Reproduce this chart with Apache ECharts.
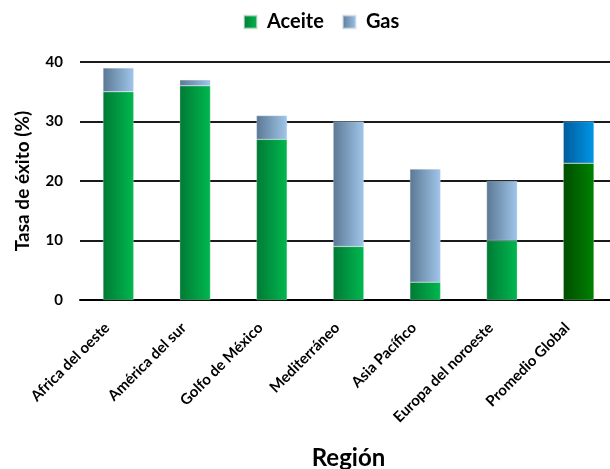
<!DOCTYPE html>
<html>
<head>
<meta charset="utf-8">
<script src="https://cdn.jsdelivr.net/npm/echarts@6/dist/echarts.min.js"></script>
<style>
  html, body { margin: 0; padding: 0; background: #fff; }
  #chart { width: 610px; height: 469px; }
</style>
</head>
<body>
<div id="chart"></div>
<script>
// Tasa de éxito por región, dividida en aceite y gas
const regiones = ['Africa del oeste', 'América del sur', 'Golfo de México', 'Mediterráneo', 'Asia Pacífico', 'Europa del noroeste', 'Promedio Global'];
const aceite = [35, 36, 27, 9, 3, 10, 23];
const gas = [4, 1, 4, 21, 19, 10, 7];
const ticksY = [0, 10, 20, 30, 40];

const FONT = 'Lato';

function grad(left, right) {
  return new echarts.graphic.LinearGradient(0, 0, 1, 0, [
    { offset: 0, color: left },
    { offset: 1, color: right }
  ]);
}

const verde = grad('#007a35', '#00b84f');
const azulGris = grad('#5b7894', '#a0c6ea');
const verdeOscuro = grad('#004d00', '#008200');
const azul = grad('#005c9c', '#0096e6');

const ultimo = regiones.length - 1;

const aceiteData = aceite.map((v, i) => i === ultimo ? { value: v, itemStyle: { color: verdeOscuro } } : v);
const gasData = gas.map((v, i) => i === ultimo ? { value: v, itemStyle: { color: azul } } : v);

const chart = echarts.init(document.getElementById('chart'));
chart.setOption({
  animation: false,
  textStyle: { fontFamily: FONT },
  legend: {
    top: 7,
    left: 238,
    icon: 'rect',
    itemWidth: 13,
    itemHeight: 13,
    itemGap: 18,
    textStyle: { fontSize: 20, fontWeight: 'bold', color: '#000', fontFamily: FONT, padding: [0, 0, 0, 5] },
    data: ['Aceite', 'Gas']
  },
  grid: { left: 80, top: 62, width: 537, height: 238, containLabel: false, outerBoundsMode: 'none' },
  xAxis: {
    type: 'category',
    data: regiones,
    name: 'Región',
    nameLocation: 'middle',
    nameGap: 146,
    nameTextStyle: { fontSize: 24, fontWeight: 'bold', color: '#000', fontFamily: FONT },
    axisLine: { lineStyle: { color: '#000', width: 2 } },
    axisTick: { show: false },
    axisLabel: { rotate: 45, fontSize: 15, fontWeight: 'bold', color: '#000', margin: 14, padding: [0, 16, 0, 0], fontFamily: FONT }
  },
  yAxis: {
    type: 'value',
    min: ticksY[0],
    max: ticksY[ticksY.length - 1],
    interval: 10,
    name: 'Tasa de éxito (%)',
    nameLocation: 'middle',
    nameGap: 48,
    nameTextStyle: { fontSize: 19, fontWeight: 'bold', color: '#000', fontFamily: FONT },
    axisLine: { show: false },
    axisTick: { show: false },
    axisLabel: { fontSize: 15, fontWeight: 'bold', color: '#000', margin: 17, fontFamily: FONT },
    splitLine: { lineStyle: { color: '#1a1a1a', width: 2 } }
  },
  series: [
    {
      name: 'Aceite',
      type: 'bar',
      stack: 'total',
      barWidth: '40%',
      itemStyle: { color: verde, borderColor: 'rgba(220,230,220,0.6)', borderWidth: 0.5 },
      data: aceiteData
    },
    {
      name: 'Gas',
      type: 'bar',
      stack: 'total',
      barWidth: '40%',
      itemStyle: { color: azulGris, borderColor: 'rgba(220,230,240,0.6)', borderWidth: 0.5 },
      data: gasData
    }
  ]
});
</script>
</body>
</html>
